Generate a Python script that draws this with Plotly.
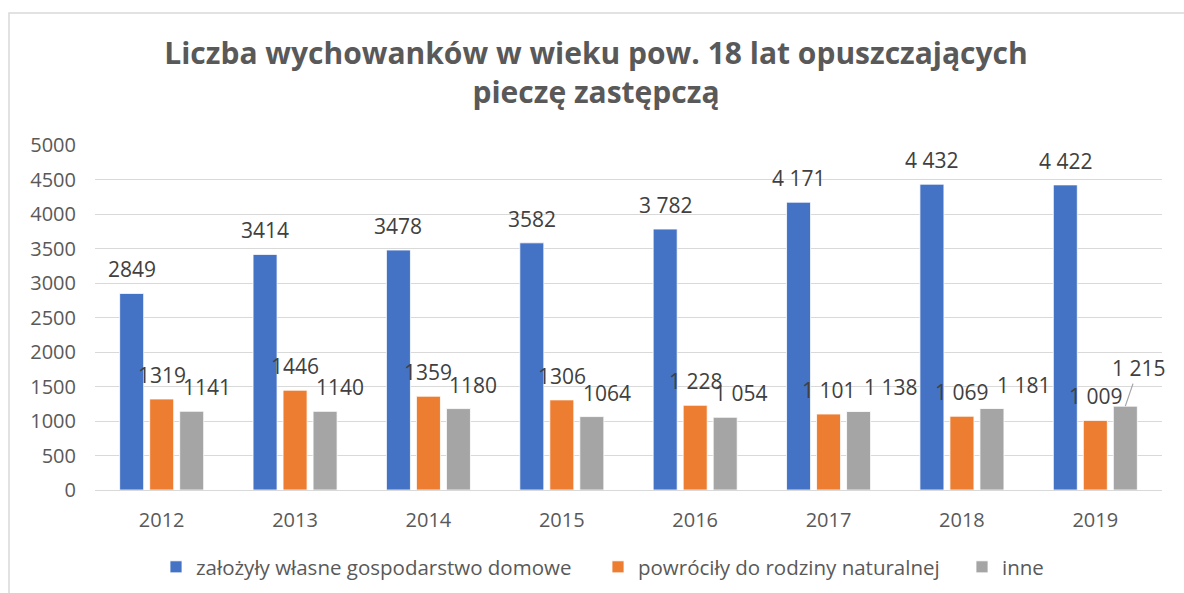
import plotly.graph_objects as go

years = ["2012", "2013", "2014", "2015", "2016", "2017", "2018", "2019"]
series_names = [
    "założyły własne gospodarstwo domowe",
    "powróciły do rodziny naturalnej",
    "inne",
]
own_household = [2849, 3414, 3478, 3582, 3782, 4171, 4432, 4422]
back_to_family = [1319, 1446, 1359, 1306, 1228, 1101, 1069, 1009]
other = [1141, 1140, 1180, 1064, 1054, 1138, 1181, 1215]
# from 2016 on the labels use a space as thousands separator
spaced_from_index = 4

colors = ["#4472C4", "#ED7D31", "#A5A5A5"]
series_values = [own_household, back_to_family, other]

# label styling (pixel nudges)
bar_offsets = [-30, 0, 30]
gray_label_nudge = [15, 15, 15, 15, 15, 32, 32, 13]
legend_entry_widths = [397, 319, 60]

W, H = 1184, 593
ML, MR, MT, MB = 95, 22, 145, 103
PW = W - ML - MR
PH = H - MT - MB


def fmt(v, j):
    if j >= spaced_from_index:
        return f"{v:,}".replace(",", " ")
    return str(v)


fig = go.Figure()
for name, vals, col, lw in zip(series_names, series_values, colors, legend_entry_widths):
    fig.add_trace(go.Bar(
        name=name, x=years, y=vals,
        marker=dict(color=col, line=dict(color="white", width=0.8)),
        hoverinfo="x+y", legendwidth=lw,
    ))

label_font = dict(family="Open Sans", size=21, color="#404040")
annotations = []
for i, vals in enumerate(series_values):
    for j, v in enumerate(vals):
        nudge = gray_label_nudge[j] if i == 2 else 0
        if i == 2 and j == len(years) - 1:
            annotations.append(dict(
                x=j, y=v, xref="x", yref="y", xshift=bar_offsets[i],
                text=fmt(v, j), font=label_font, showarrow=True,
                arrowhead=0, arrowwidth=1.2, arrowcolor="#A5A5A5",
                ax=nudge, ay=-38, standoff=0,
            ))
        else:
            annotations.append(dict(
                x=j, y=v, xref="x", yref="y",
                xshift=bar_offsets[i] + nudge, yshift=8,
                text=fmt(v, j), font=label_font, showarrow=False,
                yanchor="bottom", xanchor="center",
            ))

fig.update_layout(
    width=W, height=H,
    margin=dict(l=ML, r=MR, t=MT, b=MB, autoexpand=False),
    paper_bgcolor="white", plot_bgcolor="white",
    barmode="group", bargap=0.325, bargroupgap=0.2,
    title=dict(
        text="Liczba wychowanków w wieku pow. 18 lat opuszczających<br>pieczę zastępczą",
        font=dict(family="Open Sans", size=30, color="#595959", weight="bold"),
        xref="container", x=596 / W, xanchor="center",
        yref="container", y=1 - 64 / H, yanchor="top",
    ),
    font=dict(family="Open Sans", color="#595959"),
    yaxis=dict(
        range=[0, 5000], autorange=False, dtick=500, showgrid=True,
        gridcolor="#D9D9D9", gridwidth=1.3, zeroline=False, showline=False,
        tickfont=dict(family="Open Sans", size=20, color="#595959"),
        ticklabelstandoff=18, fixedrange=True,
    ),
    xaxis=dict(
        type="category", range=[-0.5, len(years) - 0.5], autorange=False,
        showline=True, linecolor="#D9D9D9", linewidth=1.3, ticks="",
        tickfont=dict(family="Open Sans", size=20, color="#595959"),
        ticklabelstandoff=12, fixedrange=True,
    ),
    legend=dict(
        orientation="h", xref="container", yref="container",
        x=(171 - 15) / W, xanchor="left", y=1 - 567 / H, yanchor="middle",
        font=dict(family="Open Sans", size=20.5, color="#595959"),
        itemwidth=30, traceorder="normal",
    ),
    annotations=annotations,
    shapes=[dict(
        type="rect", xref="paper", yref="paper",
        x0=(9 - ML) / PW, x1=(W + 10 - ML) / PW,
        y0=-(MB + 20) / PH, y1=(H - MB - 13) / PH,
        line=dict(color="#D9D9D9", width=1.5), fillcolor="rgba(0,0,0,0)",
        layer="below",
    )],
)

fig.write_html("out.html", post_script="document.body.style.margin='0';",
               config={"displayModeBar": False})
